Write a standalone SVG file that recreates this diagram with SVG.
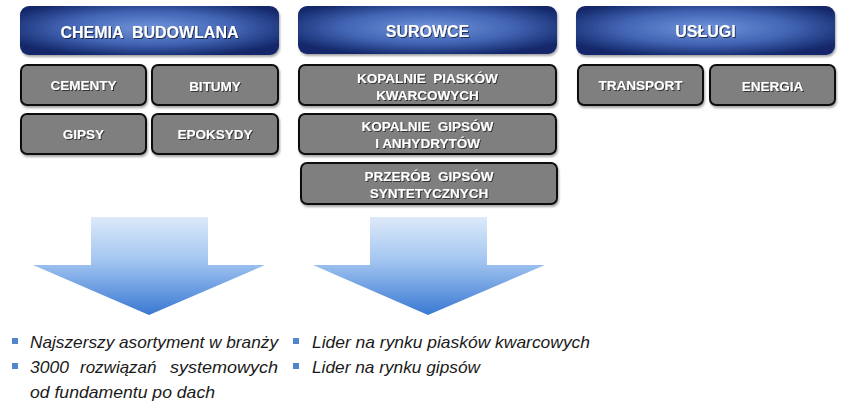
<svg xmlns="http://www.w3.org/2000/svg" width="843" height="419" viewBox="0 0 843 419">
<defs>
<radialGradient id="hdr" cx="50%" cy="45%" r="60%">
<stop offset="0" stop-color="#7194da"/>
<stop offset="0.55" stop-color="#4264b4"/>
<stop offset="1" stop-color="#13286a"/>
</radialGradient>
<linearGradient id="arr" gradientUnits="userSpaceOnUse" x1="0" y1="217" x2="0" y2="315">
<stop offset="0" stop-color="#dde9f9"/>
<stop offset="0.45" stop-color="#a2c5f1"/>
<stop offset="1" stop-color="#3a78d2"/>
</linearGradient>
<filter id="sh" x="-10%" y="-10%" width="125%" height="140%">
<feDropShadow dx="1" dy="2" stdDeviation="1.2" flood-color="#000" flood-opacity="0.35"/>
</filter>
<filter id="tsh" x="-10%" y="-20%" width="120%" height="160%">
<feDropShadow dx="1" dy="1" stdDeviation="0.6" flood-color="#000" flood-opacity="0.6"/>
</filter>
</defs>
<style>
.hdr{fill:url(#hdr);filter:url(#sh)}
.sub{fill:#7f7f7f;stroke:#111;stroke-width:2;filter:url(#sh)}
.ht{font-family:"Liberation Sans",Arial,sans-serif;font-weight:bold;font-size:16px;fill:#fff;text-anchor:middle;filter:url(#tsh)}
.st{font-family:"Liberation Sans",Arial,sans-serif;font-weight:bold;font-size:13.5px;fill:#fff;text-anchor:middle;filter:url(#tsh)}
.it{font-family:"Liberation Sans",Arial,sans-serif;font-style:italic;font-size:17px;fill:#1a1a1a}
.bul{fill:#4f86cc}
.arr{fill:url(#arr)}
</style>
<rect width="843" height="419" fill="#fff"/>

<g id="chemia">
<rect class="hdr" x="20" y="6" width="259" height="49" rx="9"/>
<text class="ht" x="149.5" y="37.5" xml:space="preserve">CHEMIA  BUDOWLANA</text>
</g>
<g id="cementy">
<rect class="sub" x="21" y="65" width="125" height="40" rx="6"/>
<text class="st" x="83.5" y="90">CEMENTY</text>
</g>
<g id="bitumy">
<rect class="sub" x="152" y="65" width="126" height="40" rx="6"/>
<text class="st" x="215" y="91">BITUMY</text>
</g>
<g id="gipsy">
<rect class="sub" x="21" y="114" width="125" height="40" rx="6"/>
<text class="st" x="83.5" y="139">GIPSY</text>
</g>
<g id="epoksydy">
<rect class="sub" x="152" y="114" width="126" height="40" rx="6"/>
<text class="st" x="215" y="139">EPOKSYDY</text>
</g>

<g id="surowce">
<rect class="hdr" x="298" y="6" width="259" height="48" rx="9"/>
<text class="ht" x="427.5" y="37">SUROWCE</text>
</g>
<g id="kopalnie-piaskow">
<rect class="sub" x="299" y="65" width="257" height="40" rx="6"/>
<text class="st" x="427.5" y="83" xml:space="preserve">KOPALNIE  PIASKÓW</text>
<text class="st" x="427.5" y="100">KWARCOWYCH</text>
</g>
<g id="kopalnie-gipsow">
<rect class="sub" x="299" y="114" width="257" height="40" rx="6"/>
<text class="st" x="427.5" y="131" xml:space="preserve">KOPALNIE  GIPSÓW</text>
<text class="st" x="427.5" y="148">I ANHYDRYTÓW</text>
</g>
<g id="przerob">
<rect class="sub" x="301" y="163" width="256" height="41" rx="6"/>
<text class="st" x="429" y="181" xml:space="preserve">PRZERÓB  GIPSÓW</text>
<text class="st" x="429" y="198">SYNTETYCZNYCH</text>
</g>

<g id="uslugi">
<rect class="hdr" x="576" y="6" width="259" height="49" rx="9"/>
<text class="ht" x="705.5" y="37">USŁUGI</text>
</g>
<g id="transport">
<rect class="sub" x="578" y="65" width="125" height="40" rx="6"/>
<text class="st" x="640.5" y="90">TRANSPORT</text>
</g>
<g id="energia">
<rect class="sub" x="710" y="65" width="125" height="40" rx="6"/>
<text class="st" x="772.5" y="91">ENERGIA</text>
</g>

<g id="connectors">
<path class="arr" d="M91 217 H208 V265 H265 L149 315 L33 265 H91 Z"/>
<path class="arr" d="M370 217 H487 V265 H545 L428 315 L313 265 H370 Z"/>
</g>

<g id="list1">
<rect class="bul" x="12" y="338" width="6" height="6"/>
<text class="it" x="30" y="348" textLength="248" lengthAdjust="spacingAndGlyphs">Najszerszy asortyment w branży</text>
<rect class="bul" x="12" y="363" width="6" height="6"/>
<text class="it" x="30" y="373" textLength="39" lengthAdjust="spacingAndGlyphs">3000</text>
<text class="it" x="80" y="373">rozwiązań</text>
<text class="it" x="170" y="373" textLength="108" lengthAdjust="spacingAndGlyphs">systemowych</text>
<text class="it" x="30" y="398" textLength="185" lengthAdjust="spacingAndGlyphs">od fundamentu po dach</text>
</g>
<g id="list2">
<rect class="bul" x="293" y="338" width="6" height="6"/>
<text class="it" x="312" y="348" textLength="278" lengthAdjust="spacingAndGlyphs">Lider na rynku piasków kwarcowych</text>
<rect class="bul" x="293" y="363" width="6" height="6"/>
<text class="it" x="312" y="373" textLength="168" lengthAdjust="spacingAndGlyphs">Lider na rynku gipsów</text>
</g>
</svg>
